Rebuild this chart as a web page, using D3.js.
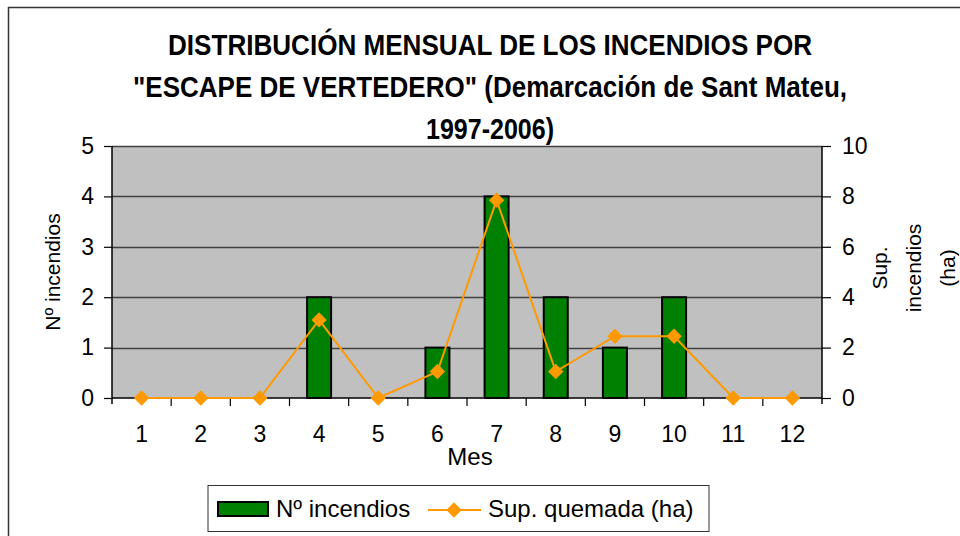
<!DOCTYPE html>
<html>
<head>
<meta charset="utf-8">
<script src="https://cdn.jsdelivr.net/npm/d3@7"></script>
<style>
body { margin:0; background:#fff; }
text { font-family: "Liberation Sans", Arial, sans-serif; fill:#000; }
</style>
</head>
<body>
<div id="chart"></div>
<script>
// datos
var meses = [1,2,3,4,5,6,7,8,9,10,11,12];
var incendios = [0,0,0,2,0,1,4,2,1,2,0,0];
var superficie = [0,0,0,3.1,0,1.05,7.85,1.05,2.45,2.45,0,0];
var ticksIzq = [0,1,2,3,4,5];
var ticksDer = [0,2,4,6,8,10];
var titulo = ["DISTRIBUCIÓN MENSUAL DE LOS INCENDIOS POR",
	"\"ESCAPE DE VERTEDERO\" (Demarcación de Sant Mateu,",
	"1997-2006)"];
var anchoTitulo = [644, 714, 128];

var width = 960, height = 536;
var pLeft = 112, pRight = 822, pTop = 146, pBottom = 398;

var svg = d3.select("#chart").append("svg").attr("width", width).attr("height", height);

// marco exterior
svg.append("rect").attr("x", 8.5).attr("y", 7.5).attr("width", 970).attr("height", 560)
	.attr("fill", "none").attr("stroke", "#333").attr("stroke-width", 1.5);

svg.selectAll(".titulo").data(titulo).enter().append("text").attr("class", "titulo")
	.attr("x", 490).attr("y", function(d, i) { return 55 + i * 42; })
	.attr("text-anchor", "middle").attr("font-size", 29).attr("font-weight", "bold")
	.attr("textLength", function(d, i) { return anchoTitulo[i]; })
	.attr("lengthAdjust", "spacingAndGlyphs")
	.text(function(d) { return d; });

var x = d3.scaleBand().domain(meses).range([pLeft, pRight]);
var yIzq = d3.scaleLinear().domain([0, 5]).range([pBottom, pTop]);
var yDer = d3.scaleLinear().domain([0, 10]).range([pBottom, pTop]);

svg.append("rect").attr("x", pLeft).attr("y", pTop).attr("width", pRight - pLeft).attr("height", pBottom - pTop)
	.attr("fill", "#c0c0c0");

// lineas de division
svg.selectAll(".grid").data(ticksIzq.slice(1)).enter().append("line")
	.attr("x1", pLeft).attr("x2", pRight)
	.attr("y1", function(d) { return Math.round(yIzq(d)) + 0.5; })
	.attr("y2", function(d) { return Math.round(yIzq(d)) + 0.5; })
	.attr("stroke", "#404040").attr("stroke-width", 1.5);

// barras
var bw = 24;
svg.selectAll(".barra").data(incendios).enter().append("rect")
	.attr("x", function(d, i) { return x(meses[i]) + x.bandwidth() / 2 - bw / 2; })
	.attr("y", function(d) { return yIzq(d); })
	.attr("width", bw)
	.attr("height", function(d) { return pBottom - yIzq(d); })
	.attr("fill", "#008000").attr("stroke", "#000").attr("stroke-width", 2)
	.attr("visibility", function(d) { return d > 0 ? "visible" : "hidden"; });

// ejes
var ejeIzq = d3.axisLeft(yIzq).tickValues(ticksIzq).tickFormat(d3.format("d")).tickSize(8).tickPadding(10);
var gIzq = svg.append("g").attr("transform", "translate(" + pLeft + ",0)").call(ejeIzq);
var ejeDer = d3.axisRight(yDer).tickValues(ticksDer).tickFormat(d3.format("d")).tickSize(9).tickPadding(11);
var gDer = svg.append("g").attr("transform", "translate(" + pRight + ",0)").call(ejeDer);
var ejeX = d3.axisBottom(x).tickSize(0).tickPadding(28);
var gX = svg.append("g").attr("transform", "translate(0," + pBottom + ")").call(ejeX);

[gIzq, gDer, gX].forEach(function(g)
{
	g.select(".domain").attr("stroke", "#000").attr("stroke-width", 1.5);
	g.selectAll(".tick line").attr("stroke", "#000").attr("stroke-width", 1.2);
	g.selectAll("text").attr("font-size", 23).attr("font-family", "Liberation Sans, Arial, sans-serif").attr("fill", "#000");
});
gIzq.select(".domain").attr("d", "M0," + pTop + "V" + (pBottom + 6));
gDer.select(".domain").attr("d", "M0," + pTop + "V" + (pBottom + 6));
gX.select(".domain").attr("d", "M" + pLeft + ",0H" + pRight);

// marcas entre categorias
svg.selectAll(".xtick").data(meses.slice(1)).enter().append("line")
	.attr("x1", function(d) { return x(d); }).attr("x2", function(d) { return x(d); })
	.attr("y1", pBottom).attr("y2", pBottom + 8)
	.attr("stroke", "#000").attr("stroke-width", 1.2);

// linea de superficie
var linea = d3.line()
	.x(function(d, i) { return x(meses[i]) + x.bandwidth() / 2; })
	.y(function(d) { return yDer(d); });
svg.append("path").attr("d", linea(superficie)).attr("fill", "none")
	.attr("stroke", "#ff9900").attr("stroke-width", 2);
var diamante = d3.symbol().type(d3.symbolDiamond2).size(150);
svg.selectAll(".punto").data(superficie).enter().append("path")
	.attr("d", diamante)
	.attr("transform", function(d, i) { return "translate(" + (x(meses[i]) + x.bandwidth() / 2) + "," + yDer(d) + ")"; })
	.attr("fill", "#ff9900");

// titulos de ejes
svg.append("text").attr("x", 470).attr("y", 465).attr("text-anchor", "middle").attr("font-size", 24).text("Mes");
svg.append("text").attr("transform", "translate(60,272) rotate(-90)").attr("text-anchor", "middle")
	.attr("font-size", 21).text("Nº incendios");
var tDer = ["Sup.", "incendios", "(ha)"];
svg.selectAll(".tder").data(tDer).enter().append("text")
	.attr("transform", function(d, i) { return "translate(" + (887 + i * 34) + ",268) rotate(-90)"; })
	.attr("text-anchor", "middle").attr("font-size", 21)
	.text(function(d) { return d; });

// leyenda
var ley = svg.append("g");
ley.append("rect").attr("x", 208).attr("y", 485.5).attr("width", 501).attr("height", 46)
	.attr("fill", "#fff").attr("stroke", "#333").attr("stroke-width", 1);
ley.append("rect").attr("x", 218).attr("y", 502).attr("width", 50).attr("height", 14)
	.attr("fill", "#008000").attr("stroke", "#000").attr("stroke-width", 2);
ley.append("text").attr("x", 276).attr("y", 517).attr("font-size", 24).text("Nº incendios");
ley.append("line").attr("x1", 428).attr("x2", 481).attr("y1", 510).attr("y2", 510)
	.attr("stroke", "#ff9900").attr("stroke-width", 2);
ley.append("path").attr("d", diamante).attr("transform", "translate(454,510)").attr("fill", "#ff9900");
ley.append("text").attr("x", 488).attr("y", 517).attr("font-size", 24).text("Sup. quemada (ha)");
</script>
</body>
</html>
